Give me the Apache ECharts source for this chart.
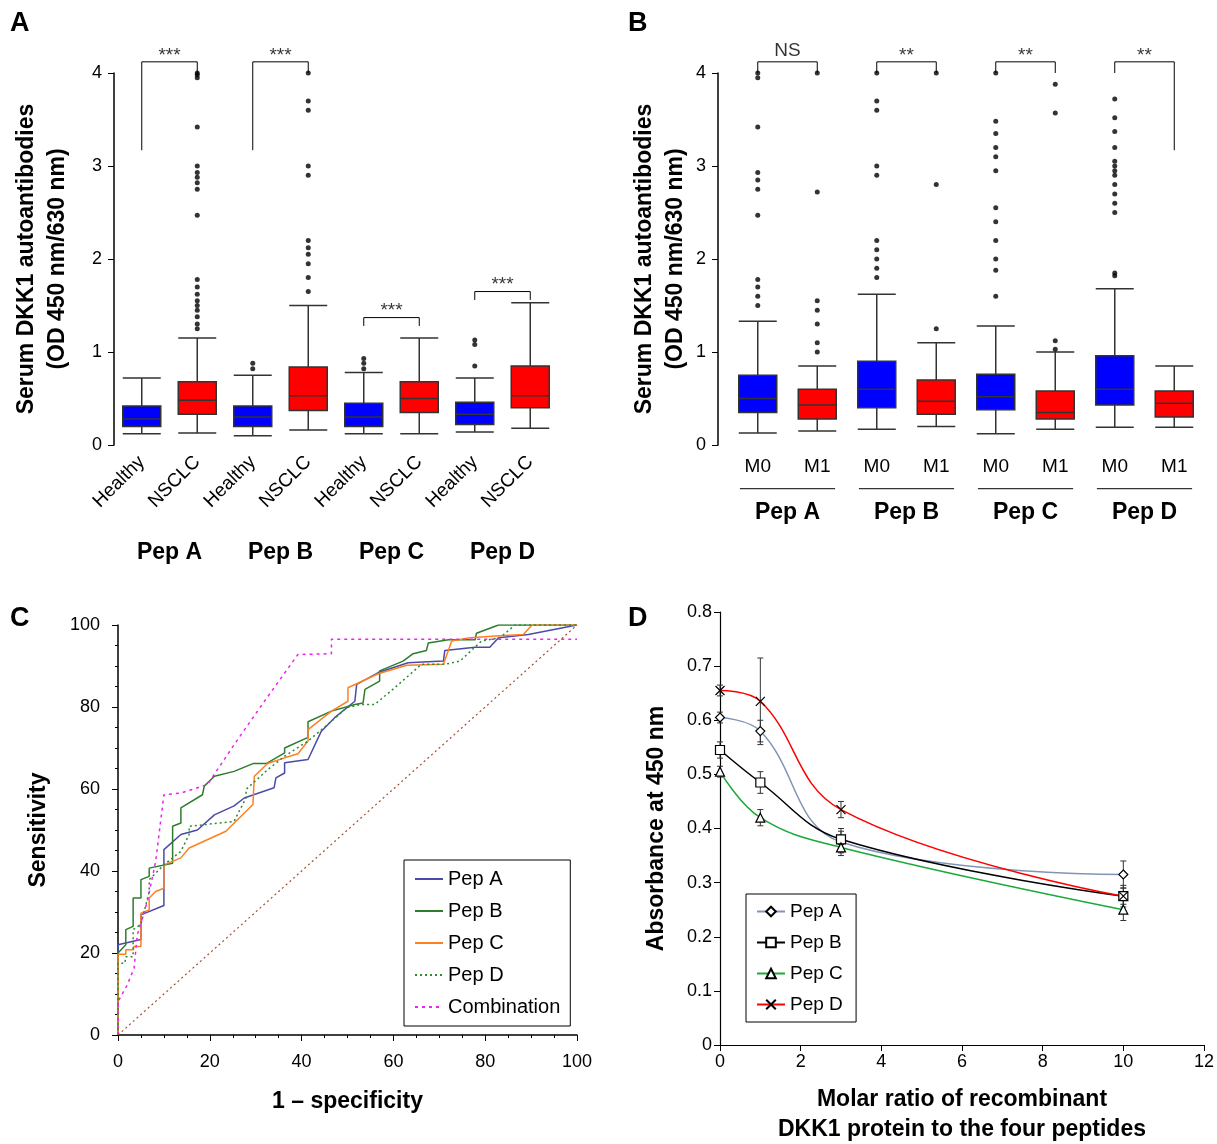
<!DOCTYPE html>
<html><head><meta charset="utf-8">
<script src="https://cdn.jsdelivr.net/npm/echarts@6/dist/echarts.min.js"></script>
<style>body{margin:0}#c{width:1217px;height:1144px}</style></head>
<body><div id="c"></div>
<script>
// ---------- Panel A ----------
const catsA = ['Healthy','NSCLC','Healthy','NSCLC','Healthy','NSCLC','Healthy','NSCLC'];
const groupsA = ['Pep A','Pep B','Pep C','Pep D'];
const boxA = [
 [0.12,0.2,0.28,0.42,0.72],[0.13,0.33,0.48,0.68,1.15],
 [0.1,0.2,0.3,0.42,0.75],[0.16,0.37,0.53,0.84,1.5],
 [0.12,0.2,0.3,0.45,0.78],[0.12,0.35,0.5,0.68,1.15],
 [0.14,0.22,0.33,0.46,0.72],[0.18,0.4,0.53,0.85,1.53]];
const outA = [
 [],[1.25,1.3,1.38,1.45,1.5,1.55,1.62,1.7,1.78,2.47,2.75,2.82,2.88,2.93,3.0,3.42,3.95,3.98,4.0],
 [0.82,0.88],[1.65,1.8,1.95,2.05,2.12,2.2,2.9,3.0,3.6,3.7,4.0],
 [0.82,0.88,0.93],[],
 [0.85,1.08,1.13],[]];
const bracketsA = [ // [x1,x2,top,leftEnd,rightEnd,label]
 [0,1,4.12,3.17,4.0,'***'],[2,3,4.12,3.17,4.0,'***'],[4,5,1.37,1.28,1.28,'***'],[6,7,1.65,1.56,1.56,'***']];
// ---------- Panel B ----------
const catsB = ['M0','M1','M0','M1','M0','M1','M0','M1'];
const groupsB = ['Pep A','Pep B','Pep C','Pep D'];
const boxB = [
 [0.13,0.35,0.5,0.75,1.33],[0.15,0.28,0.43,0.6,0.85],
 [0.17,0.4,0.6,0.9,1.62],[0.2,0.33,0.47,0.7,1.1],
 [0.12,0.38,0.52,0.76,1.28],[0.17,0.28,0.35,0.58,1.0],
 [0.19,0.43,0.6,0.96,1.68],[0.19,0.3,0.45,0.58,0.85]];
const outB = [
 [1.5,1.6,1.7,1.78,2.47,2.75,2.85,2.93,3.42,3.95,4.0],[1.0,1.1,1.3,1.45,1.55,2.72,4.0],
 [1.8,1.9,2.0,2.1,2.2,2.9,3.0,3.6,3.7,4.0],[1.25,2.8,4.0],
 [1.6,1.88,2.0,2.2,2.4,2.55,2.95,3.1,3.2,3.35,3.48,4.0],[1.03,1.12,3.57,3.88],
 [1.82,1.85,2.5,2.6,2.7,2.8,2.9,2.95,3.0,3.05,3.2,3.37,3.52,3.72],[]];
const bracketsB = [
 [0,1,4.12,4.0,4.0,'NS'],[2,3,4.12,4.0,4.0,'**'],[4,5,4.12,4.0,4.0,'**'],[6,7,4.12,4.0,3.17,'**']];
// ---------- Panel C ----------
const rocA = [[0,0],[0,22],[5,23.3],[5,29.3],[10,31.6],[10,45.2],[13.7,48.9],[17.3,50],[21,53.7],[25.3,55.9],[27.5,57.8],[34,60.3],[34.4,62.7],[36.3,63.9],[36.3,66.4],[41.4,67.2],[44.3,74.1],[47.2,77.4],[51.6,81.4],[52,85.5],[56.7,88.4],[63.2,90.8],[70.9,91.2],[71.2,93.8],[77.8,94.6],[81,94.6],[82.9,96.9],[89.4,97.7],[100,100]];
const rocB = [[0,0],[0,20],[1.7,22],[1.7,25.7],[3.3,26.5],[3.3,33.4],[5,33.4],[5,37.9],[6.8,38.7],[6.8,40.7],[11.9,41.9],[11.9,50.9],[13.7,51.7],[13.7,55.4],[18.4,58.6],[18.8,60.7],[21,63.1],[25.3,64.3],[29.4,66.2],[32.3,66.2],[36.3,68.8],[36.3,70],[41.4,72.6],[41.4,76.4],[46.5,79],[51.6,80.6],[53.4,81],[53.8,84.3],[57,86.3],[57,88.8],[62.1,91.2],[64.3,93],[67.2,93.8],[67.6,95.6],[72,96.4],[77.8,96.4],[78.1,98],[82.9,100],[100,100]];
const rocC = [[0,0],[0,19.7],[1.7,19.7],[1.7,20.8],[3.4,20.8],[3.4,21.6],[5,21.6],[5,29.7],[6.8,30.5],[6.8,33.4],[8.2,35],[10,35.8],[10,41.5],[13.7,43.2],[15.5,45.6],[23.5,49.7],[29.4,56.2],[29.7,63.1],[32.6,66.2],[36.3,67.6],[39.2,68.6],[41.4,71.7],[41.4,74.5],[46.5,79],[50.1,81.4],[50.1,84.7],[56.7,88.1],[62.9,90.2],[70.9,90.4],[72.7,96.1],[76.7,96.9],[82.2,97.3],[88.3,97.7],[90.2,100],[100,100]];
const rocD = [[0,0],[0,17.5],[1.5,17.5],[1.7,19.1],[3.3,19.1],[3.3,25.7],[5,27],[6.8,35],[6.8,37.9],[10,41.5],[13.7,44.8],[15.5,48.9],[15.5,50.9],[25.3,52.1],[26.4,54.6],[27.9,57.8],[27.9,59.9],[32.6,64.7],[36.3,68],[41.4,71.7],[46.5,76.5],[49.8,79.8],[52.7,80.6],[55.9,80.6],[60.3,84.7],[66.1,90.4],[71.2,90.4],[74.5,91.2],[79.2,96.1],[83.2,96.9],[86.5,100],[100,100]];
const rocComb = [[0,0],[0,8.1],[2,12.2],[3.5,16.3],[4.2,24.4],[6.4,32.6],[8.2,42.3],[10,58.6],[13.7,59],[19.5,61.1],[25.3,70.8],[31.9,81.4],[39.2,92.8],[46.5,93],[46.5,96.5],[100,96.5]];
const rocRef = [[0,0],[100,100]];
// ---------- Panel D ----------
const ratios = [0,1,3,10];
const absA = [0.605,0.58,0.375,0.315], errA=[0.01,0.02,0.02,0.025];
const absB = [0.545,0.485,0.38,0.275], errB=[0.015,0.02,0.02,0.02];
const absC = [0.505,0.42,0.365,0.25], errC=[0.01,0.015,0.015,0.02];
const absDd = [0.655,0.635,0.435,0.275], errD=[0.01,0.08,0.015,0.015];

const F = 'Liberation Sans, Arial, sans-serif';
const BLUE='#0000ff', RED='#ff0000';
const chart = echarts.init(document.getElementById('c'));
const grids = [
 {left:114, top:73, width:444, height:372},
 {left:728, top:73, width:476, height:372},
 {left:118, top:625, width:459, height:410},
 {left:720, top:612, width:485, height:433}
];
const xAxis=[], yAxis=[], series=[];
function boxPanel(g, cats, box, out, br, rot){
  const xi = xAxis.length;
  xAxis.push({type:'category', gridIndex:g, data:cats, axisTick:{show:false}, axisLine:{show:false},
    axisLabel:{rotate:rot, fontFamily:F, fontSize:19, color:'#000', margin:rot?14:12, interval:0}});
  xAxis.push({type:'value', gridIndex:g, min:-0.5, max:7.5, show:false});
  const yi = yAxis.length;
  yAxis.push({type:'value', gridIndex:g, min:0, max:4, interval:1, offset:g==1?10:0,
    axisLine:{show:true, onZero:false, lineStyle:{color:'#000', width:1.5}}, axisTick:{show:true, length:6, lineStyle:{color:'#000'}},
    splitLine:{show:false}, axisLabel:{fontFamily:F, fontSize:18, color:'#000', margin:12}});
  series.push({type:'boxplot', xAxisIndex:xi, yAxisIndex:yi, boxWidth:[38,38],
    data: box.map((d,i)=>({value:d, itemStyle:{color:i%2?RED:BLUE, borderColor:'#333', borderWidth:1.5}}))});
  const pts=[]; out.forEach((a,i)=>a.forEach(v=>pts.push([i,v])));
  series.push({type:'scatter', xAxisIndex:xi, yAxisIndex:yi, data:pts, symbolSize:5, itemStyle:{color:'#000'}});
  br.forEach(b=>{
    series.push({type:'line', xAxisIndex:xi+1, yAxisIndex:yi, clip:false, symbol:'none', silent:true,
      lineStyle:{color:'#000', width:1}, data:[[b[0],b[3]],[b[0],b[2]],[b[1],b[2]],[b[1],b[4]]]});
    series.push({type:'scatter', xAxisIndex:xi+1, yAxisIndex:yi, clip:false, symbolSize:0,
      data:[[(b[0]+b[1])/2,b[2]]], label:{show:true, formatter:b[5], position:'top', distance:b[5]=='NS'?2:-3,
      fontFamily:F, fontSize:19, color:'#000'}});
  });
  return {xi, yi};
}
const pa = boxPanel(0, catsA, boxA, outA, bracketsA, 45);
xAxis.push({type:'category', gridIndex:0, data:groupsA, position:'bottom', offset:88, axisLine:{show:false}, axisTick:{show:false},
  axisLabel:{fontFamily:F, fontSize:23, fontWeight:'bold', color:'#000'}});
const pb = boxPanel(1, catsB, boxB, outB, bracketsB, 0);
xAxis.push({type:'category', gridIndex:1, data:groupsB, position:'bottom', offset:48, axisLine:{show:false}, axisTick:{show:false},
  axisLabel:{fontFamily:F, fontSize:23, fontWeight:'bold', color:'#000'}});
[0,2,4,6].forEach(s=>{
  series.push({type:'line', xAxisIndex:pb.xi+1, yAxisIndex:pb.yi, clip:false, symbol:'none', silent:true,
    lineStyle:{color:'#000', width:1}, data:[[s-0.3,-0.47],[s+1.3,-0.47]]});
});
// Panel C
const xc = xAxis.length, yc = yAxis.length;
xAxis.push({type:'value', gridIndex:2, min:0, max:100, interval:20, offset:10,
  axisLine:{lineStyle:{color:'#000', width:1.5}}, axisTick:{length:6, lineStyle:{color:'#000'}}, splitLine:{show:false},
  minorTick:{show:true, splitNumber:4, length:3, lineStyle:{color:'#000'}},
  axisLabel:{fontFamily:F, fontSize:18, color:'#000'},
  name:'1 – specificity', nameLocation:'middle', nameGap:45, nameTextStyle:{fontFamily:F, fontSize:23, fontWeight:'bold', color:'#000'}});
yAxis.push({type:'value', gridIndex:2, min:0, max:100, interval:20, offset:10,
  axisLine:{show:true, lineStyle:{color:'#000', width:1.5}}, axisTick:{show:true, length:6, lineStyle:{color:'#000'}}, splitLine:{show:false},
  minorTick:{show:true, splitNumber:4, length:3, lineStyle:{color:'#000'}},
  axisLabel:{fontFamily:F, fontSize:18, color:'#000'},
  name:'Sensitivity', nameLocation:'middle', nameGap:58, nameTextStyle:{fontFamily:F, fontSize:23, fontWeight:'bold', color:'#000'}});
const rocSeries = [
 ['Pep A', rocA, '#4a4aa8', 'solid'],['Pep B', rocB, '#2d7d2d', 'solid'],['Pep C', rocC, '#ff8020', 'solid'],
 ['Pep D', rocD, '#2d8a2d', [2,3]],['Combination', rocComb, '#ee22ee', [3,4]]];
rocSeries.forEach(r=>series.push({type:'line', name:r[0], xAxisIndex:xc, yAxisIndex:yc, data:r[1], symbol:'none',
  lineStyle:{color:r[2], width:1.5, type:r[3]}, itemStyle:{color:r[2]}}));
series.push({type:'line', xAxisIndex:xc, yAxisIndex:yc, data:rocRef, symbol:'none', lineStyle:{color:'#a0522d', width:1.2, type:[2,3]}});
// Panel D
const xd = xAxis.length, yd = yAxis.length;
xAxis.push({type:'value', gridIndex:3, min:0, max:12, interval:2,
  axisLine:{lineStyle:{color:'#000', width:1.2}}, axisTick:{length:6, lineStyle:{color:'#000'}}, splitLine:{show:false},
  axisLabel:{fontFamily:F, fontSize:18, color:'#000'}});
yAxis.push({type:'value', gridIndex:3, min:0, max:0.8, interval:0.1,
  axisLine:{show:true, lineStyle:{color:'#000', width:1.2}}, axisTick:{show:true, length:6, lineStyle:{color:'#000'}}, splitLine:{show:false},
  axisLabel:{fontFamily:F, fontSize:18, color:'#000', formatter:v=>v===0?'0':v.toFixed(1)},
  name:'Absorbance at 450 nm', nameLocation:'middle', nameGap:52, nameTextStyle:{fontFamily:F, fontSize:23, fontWeight:'bold', color:'#000'}});
const dSeries = [
 ['Pep A ', absA, errA, '#8095b5', 'diamond'],['Pep B ', absB, errB, '#000', 'rect'],
 ['Pep C ', absC, errC, '#1aaa3a', 'triangle'],['Pep D ', absDd, errD, '#ff0000', 'path://M0,0L10,10M10,0L0,10']];
dSeries.forEach(s=>{
  series.push({type:'line', name:s[0], xAxisIndex:xd, yAxisIndex:yd, smooth:0.4, data:ratios.map((r,i)=>[r,s[1][i]]),
    symbol:s[4], symbolSize:9, lineStyle:{color:s[3], width:1.5},
    itemStyle:{color:'#fff', borderColor:'#000', borderWidth:1.2}, z:5});
  series.push({type:'custom', xAxisIndex:xd, yAxisIndex:yd, data:ratios.map((r,i)=>[r,s[1][i]-s[2][i],s[1][i]+s[2][i]]),
    renderItem:(p,api)=>{const a=api.coord([api.value(0),api.value(1)]), b=api.coord([api.value(0),api.value(2)]);
      const st={stroke:'#333', lineWidth:1};
      return {type:'group', children:[
        {type:'line', shape:{x1:a[0],y1:a[1],x2:b[0],y2:b[1]}, style:st},
        {type:'line', shape:{x1:a[0]-3,y1:a[1],x2:a[0]+3,y2:a[1]}, style:st},
        {type:'line', shape:{x1:b[0]-3,y1:b[1],x2:b[0]+3,y2:b[1]}, style:st}]};}});
});
const T=(t,x,y,s)=>({type:'text', left:x, top:y, style:{text:t, font:`bold ${s}px ${F}`, fill:'#000'}});
chart.setOption({
  animation:false,
  grid:grids, xAxis, yAxis, series,
  legend:[
    {id:'lc', data:['Pep A','Pep B','Pep C','Pep D','Combination'], orient:'vertical', left:404, top:860, itemGap:12,
     itemWidth:28, itemHeight:10, padding:[9,10,9,10], borderColor:'#000', borderWidth:1, backgroundColor:'#fff',
     itemStyle:{opacity:0}, textStyle:{fontFamily:F, fontSize:20, color:'#000'}},
    {id:'ld', data:['Pep A ','Pep B ','Pep C ','Pep D '], orient:'vertical', left:746, top:894, itemGap:12,
     itemWidth:28, itemHeight:12, padding:[8,8,8,10], borderColor:'#000', borderWidth:1, backgroundColor:'#fff',
     textStyle:{fontFamily:F, fontSize:19, color:'#000'}}
  ],
  graphic:[
    T('A',10,10,27),T('B',628,10,27),T('C',10,605,27),T('D',628,605,27),
    {type:'text', x:42, y:259, style:{text:'Serum DKK1 autoantibodies\n(OD 450 nm/630 nm)', font:`bold 23px ${F}`, fill:'#000', align:'center', verticalAlign:'middle', lineHeight:31}, rotation:Math.PI/2},
    {type:'text', x:660, y:259, style:{text:'Serum DKK1 autoantibodies\n(OD 450 nm/630 nm)', font:`bold 23px ${F}`, fill:'#000', align:'center', verticalAlign:'middle', lineHeight:31}, rotation:Math.PI/2},
    {type:'text', x:962, y:1115, style:{text:'Molar ratio of recombinant\nDKK1 protein to the four peptides', font:`bold 23px ${F}`, fill:'#000', align:'center', verticalAlign:'middle', lineHeight:30}}
  ]
});
</script></body></html>
